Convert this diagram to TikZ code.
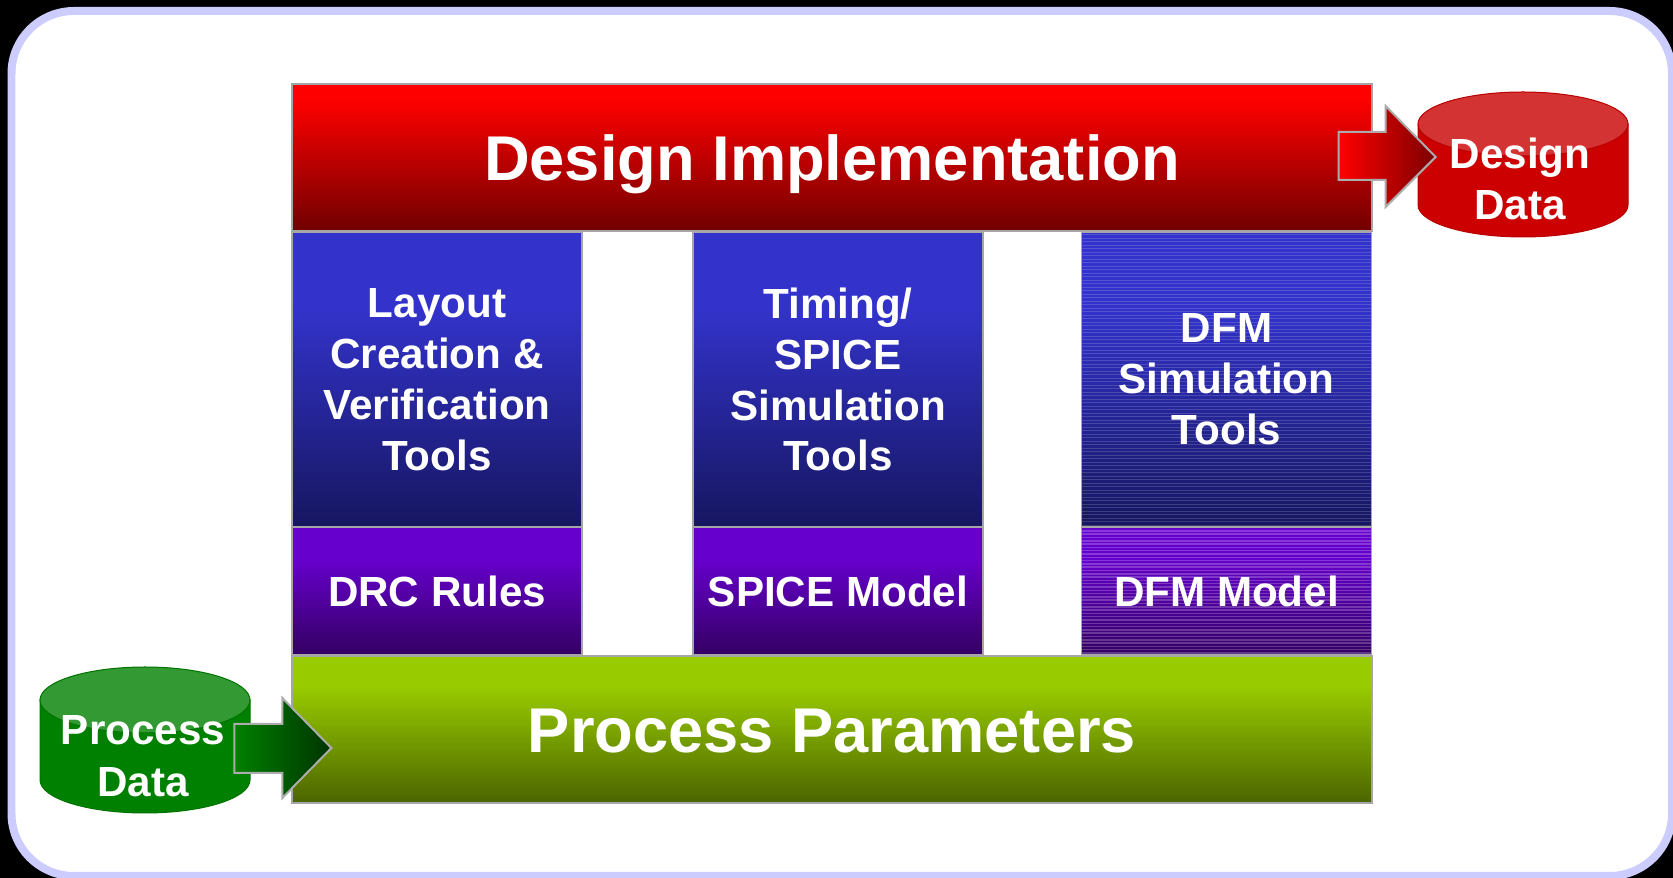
\documentclass[tikz,border=0pt]{standalone}
\usepackage{fontspec}
\setmainfont{Liberation Sans}
\definecolor{implTop}{HTML}{FF0000}
\definecolor{implBot}{HTML}{700000}
\definecolor{toolTop}{HTML}{3333CC}
\definecolor{toolBot}{HTML}{161660}
\definecolor{modelTop}{HTML}{6600CC}
\definecolor{modelBot}{HTML}{330062}
\definecolor{parTop}{HTML}{99CC00}
\definecolor{parBot}{HTML}{4B6400}
\definecolor{frameLav}{HTML}{CCCCFF}
\definecolor{ddBody}{HTML}{CC0000}
\definecolor{ddTop}{HTML}{D43333}
\definecolor{pdBody}{HTML}{008000}
\definecolor{pdTop}{HTML}{339933}
\pgfdeclareverticalshading{implfade}{100bp}{color(0bp)=(implBot); color(25bp)=(implBot); color(70bp)=(implTop); color(100bp)=(implTop)}
\pgfdeclareverticalshading{toolfade}{100bp}{color(0bp)=(toolBot); color(25bp)=(toolBot); color(62.5bp)=(toolTop); color(100bp)=(toolTop)}
\pgfdeclareverticalshading{modelfade}{100bp}{color(0bp)=(modelBot); color(25bp)=(modelBot); color(62.5bp)=(modelTop); color(100bp)=(modelTop)}
\pgfdeclareverticalshading{parfade}{100bp}{color(0bp)=(parBot); color(25bp)=(parBot); color(65bp)=(parTop); color(100bp)=(parTop)}

\begin{document}
\begin{tikzpicture}[x=0.02cm,y=0.02cm,
        block/.style={draw=gray!70,line width=0.03cm,text=white,align=center,inner sep=0pt,shade},
        wide/.style={block,minimum width=21.6cm,minimum height=2.94cm,text height=0.91cm,text depth=0pt,
          font=\fontsize{36}{43}\selectfont\bfseries},
        tool/.style={block,shading=toolfade,minimum width=5.8cm,minimum height=5.9cm,font=\fontsize{24}{29}\selectfont\bfseries},
        model/.style={block,shading=modelfade,minimum width=5.8cm,minimum height=2.56cm,font=\fontsize{24}{29}\selectfont\bfseries},
        cyltext/.style={text=white,align=center,inner sep=0pt,font=\fontsize{24}{29.5}\selectfont\bfseries},
        fatarrow/.style={draw=gray!65,line width=0.04cm}]
        \useasboundingbox (0,0) rectangle (1673,878);
        \fill[black] (0,0) rectangle (1673,878);
        \filldraw[fill=white,draw=frameLav,line width=0.16cm,rounded corners=1.25cm]
        (11.5,867) rectangle (1672,2);

        \node[wide,shading=implfade] (impl) at (832,720.5) {Design Implementation};
        \node[tool] (layout) at (437,498.5) {Layout\\Creation \&\\Verification\\Tools};
        \node[tool] (timing) at (838,498.5) {Timing/\\SPICE\\Simulation\\Tools};
        \node[tool] (dfmsim) at (1226.5,498.5) {DFM\\Simulation\\Tools};
        \node[model] (drc) at (437,287) {DRC Rules};
        \node[model] (spice) at (838,287) {SPICE Model};
        \node[model] (dfmmod) at (1226.5,287) {DFM Model};
        \node[wide,shading=parfade] (params) at (832,148.5) {Process Parameters};

        \foreach \y in {353,356.5,...,645}
        \draw[white,opacity=.16,line width=0.015cm] (1082,\y) -- (1371,\y);
        \foreach \y in {225,228.3,...,350}
        \draw[white,opacity=.22,line width=0.03cm] (1082,\y) -- (1371,\y);

        \filldraw[fill=ddBody,draw=ddBody!90!black,line width=0.02cm] (1418,754) -- (1418,673)
        arc[start angle=180,end angle=360,x radius=105,y radius=32] -- (1628,754) -- cycle;
        \filldraw[fill=ddTop,draw=ddBody!90!black,line width=0.02cm] (1523,754)
        ellipse[x radius=105,y radius=32];
        \node[cyltext] (ddata) at (1520,699) {Design\\Data};

        \filldraw[fill=pdBody,draw=pdBody!90!black,line width=0.02cm] (40,178) -- (40,98)
        arc[start angle=180,end angle=360,x radius=105,y radius=33] -- (250,178) -- cycle;
        \filldraw[fill=pdTop,draw=pdBody!90!black,line width=0.02cm] (145,178)
        ellipse[x radius=105,y radius=33];
        \node[cyltext] (pdata) at (143,122) {Process\\Data};

        \draw[fatarrow,left color=implTop,right color=implBot!110!black] ([shift={(-34,25.5)}]impl.east)
        -- ++(47,0) -- ++(0,26) -- ++(50,-51) -- ++(-50,-50) -- ++(0,27) -- ++(-47,0) -- cycle;
        \draw[fatarrow,left color=pdBody,right color=pdBody!40!black] ([shift={(-57,5.5)}]params.west)
        -- ++(48,0) -- ++(0,26) -- ++(49,-50) -- ++(-49,-50) -- ++(0,25) -- ++(-48,0) -- cycle;
      \end{tikzpicture}
\end{document}
